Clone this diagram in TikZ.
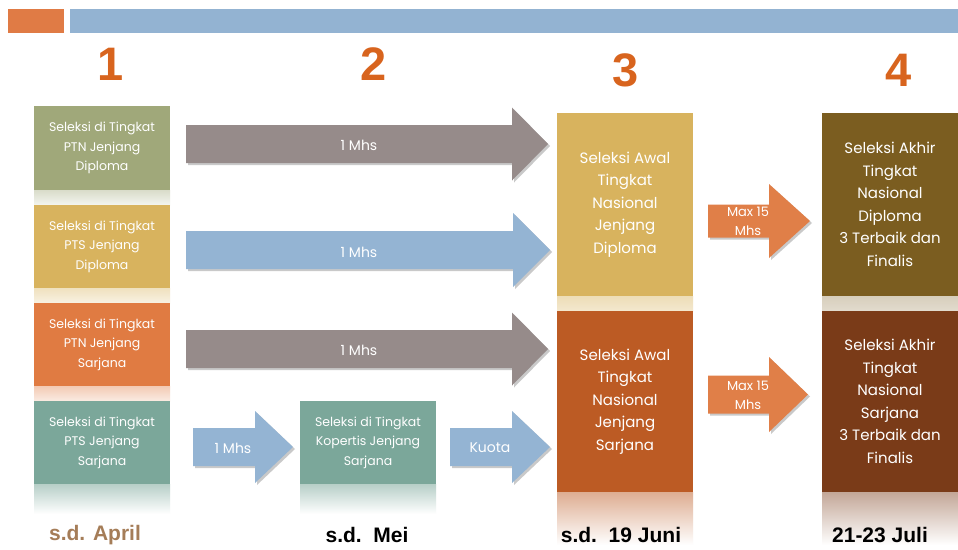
\documentclass[tikz,border=0pt]{standalone}
\usepackage{fontspec}
\setmainfont{Poppins}
\newfontfamily\labfont{Liberation Sans}
\usetikzlibrary{shadows,calc}
\definecolor{cBarO}{HTML}{E07B45}
\definecolor{cBarB}{HTML}{93B3D2}
\definecolor{cGreen}{HTML}{A0A87A}
\definecolor{cGold}{HTML}{D8B35E}
\definecolor{cOrange}{HTML}{E07B42}
\definecolor{cTeal}{HTML}{7BA79A}
\definecolor{cGray}{HTML}{968B8A}
\definecolor{cBlue}{HTML}{94B4D3}
\definecolor{cRust}{HTML}{BC5B24}
\definecolor{cOlive}{HTML}{7B5D20}
\definecolor{cBrown}{HTML}{7A3B18}
\definecolor{cMax}{HTML}{E07F48}
\definecolor{cNum}{HTML}{D8641E}
\definecolor{cApr}{HTML}{A57D58}
\tikzset{
  box/.style={fill=#1, minimum width=136pt, inner sep=0pt, align=center, text=white},
  smalltxt/.style={font=\fontsize{12.5}{19.5}\selectfont},
  bigtxt/.style={font=\fontsize{15}{22.5}\selectfont},
  arrlab/.style={text=white, font=\fontsize{14}{18}\selectfont, align=center, inner sep=0pt},
  maxlab/.style={text=white, font=\fontsize{13}{19}\selectfont, align=center, inner sep=0pt},
  numtxt/.style={font=\labfont\bfseries\fontsize{47}{50}\selectfont, inner sep=0pt, text=cNum},
  datetxt/.style={font=\labfont\bfseries\fontsize{21}{23}\selectfont, inner sep=0pt},
  ashadow/.style={drop shadow={shadow xshift=2pt, shadow yshift=-2pt, opacity=0.35, fill=black!60}}
}
% block arrow: color, xl, xh, xt, yc, halfbody, halfhead
\newcommand\blockarr[7]{%
  \fill[#1, ashadow] (#2,#5-#6) -- (#3,#5-#6) -- (#3,#5-#7) -- (#4,#5) -- (#3,#5+#7) -- (#3,#5+#6) -- (#2,#5+#6) -- cycle;}
\begin{document}
\begin{tikzpicture}[x=1pt,y=-1pt]
\useasboundingbox (0,0) rectangle (958,549);
\fill[white] (0,0) rectangle (958,549);
% top bars
\fill[cBarO] (8,9) rectangle (64,33);
\fill[cBarB] (70,9) rectangle (958,33);
% numbers
\node[numtxt] (n1) at (111,64) {1};
\node[numtxt] (n2) at (374,64) {2};
\node[numtxt] (n3) at (626,70) {3};
\node[numtxt] (n4) at (899,70) {4};
% reflection bands
\shade[top color=cGreen!40, bottom color=cGreen!12] (34,190) rectangle (170,205);
\shade[top color=cGold!40, bottom color=cGold!18] (34,288) rectangle (170,303);
\shade[top color=cOrange!40, bottom color=cOrange!15] (34,386) rectangle (170,401);
\shade[top color=cTeal!55, bottom color=white] (34,484) rectangle (170,514);
\shade[top color=cTeal!55, bottom color=white] (300,484) rectangle (436,514);
\shade[top color=cGold!45, bottom color=cGold!30] (557,296) rectangle (693,311);
\shade[top color=cRust!50, bottom color=white] (557,492) rectangle (693,545);
\shade[top color=cOlive!30, bottom color=cOlive!22] (822,296) rectangle (958,311);
\shade[top color=cBrown!45, bottom color=white] (822,492) rectangle (958,545);
% left column
\node[box=cGreen, smalltxt, minimum height=84pt] (b1) at (102,148) {Seleksi di Tingkat\\PTN Jenjang\\Diploma};
\node[box=cGold, smalltxt, minimum height=83pt] (b2) at (102,246.5) {Seleksi di Tingkat\\PTS Jenjang\\Diploma};
\node[box=cOrange, smalltxt, minimum height=83pt] (b3) at (102,344.5) {Seleksi di Tingkat\\PTN Jenjang\\Sarjana};
\node[box=cTeal, smalltxt, minimum height=83pt] (b4) at (102,442.5) {Seleksi di Tingkat\\PTS Jenjang\\Sarjana};
\node[box=cTeal, smalltxt, minimum height=83pt] (kop) at (368,442.5) {Seleksi di Tingkat\\Kopertis Jenjang\\Sarjana};
% column 3 and 4
\node[box=cGold, bigtxt, minimum height=183pt] (c3u) at (625,204.5) {Seleksi Awal\\Tingkat\\Nasional\\Jenjang\\Diploma};
\node[box=cRust, bigtxt, minimum height=181pt] (c3l) at (625,401.5) {Seleksi Awal\\Tingkat\\Nasional\\Jenjang\\Sarjana};
\node[box=cOlive, bigtxt, minimum height=183pt] (c4u) at (890,204.5) {Seleksi Akhir\\Tingkat\\Nasional\\Diploma\\3 Terbaik dan\\Finalis};
\node[box=cBrown, bigtxt, minimum height=181pt] (c4l) at (890,401.5) {Seleksi Akhir\\Tingkat\\Nasional\\Sarjana\\3 Terbaik dan\\Finalis};
% arrows
\blockarr{cGray}{186}{512}{548}{144}{19}{36.5}
\node[arrlab] (a1) at (359,145) {1 Mhs};
\blockarr{cBlue}{186}{513}{550}{250}{19}{37}
\node[arrlab] (a2) at (359,252) {1 Mhs};
\blockarr{cGray}{186}{512}{548}{349}{19}{36.5}
\node[arrlab] (a3) at (359,350) {1 Mhs};
\blockarr{cBlue}{193}{255}{293}{447}{19}{36}
\node[arrlab] (a4) at (233,448) {1 Mhs};
\blockarr{cBlue}{450}{512}{550}{447}{19}{36}
\node[arrlab] (a5) at (490,448) {Kuota};
\blockarr{cMax}{708}{769}{810}{221}{16.5}{37}
\node[maxlab] (m1) at (748,221) {Max 15\\Mhs};
\blockarr{cMax}{708}{769}{808}{394.5}{19}{37.5}
\node[maxlab] (m2) at (748,395) {Max 15\\Mhs};
% dates
\node[datetxt, text=cApr] (d1) at (95,535) {s.d. April};
\node[datetxt] (d2) at (367,535) {s.d.\ \ Mei};
\node[datetxt] (d3) at (621,535) {s.d.\ \ 19 Juni};
\node[datetxt] (d4) at (880,535) {21-23 Juli};
\end{tikzpicture}
\end{document}
